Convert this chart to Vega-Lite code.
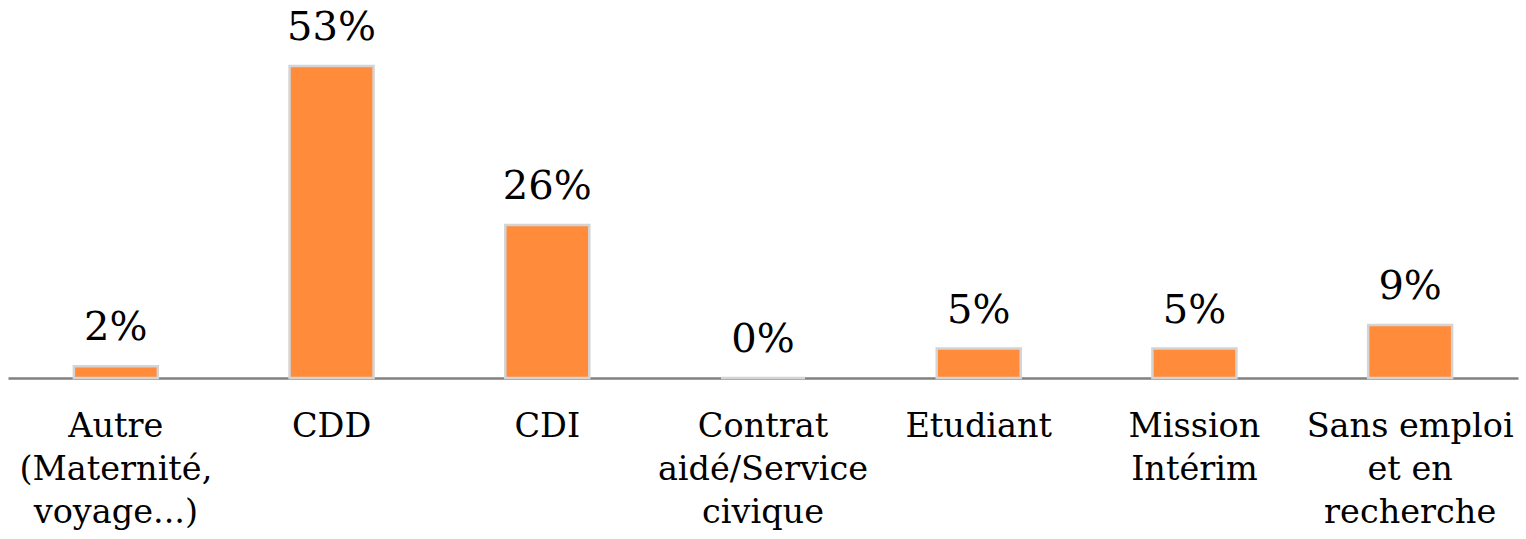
{
  "$schema": "https://vega.github.io/schema/vega-lite/v6.json",
  "width": 1510,
  "height": 378,
  "autosize": {"type": "none"},
  "padding": {"left": 8, "right": 8, "top": 0, "bottom": 161},
  "background": "white",
  "config": {"view": {"stroke": null}},
  "data": {
    "values": [
      {"statut": "Autre (Maternité, voyage...)", "part": 0.02},
      {"statut": "CDD", "part": 0.53},
      {"statut": "CDI", "part": 0.26},
      {"statut": "Contrat aidé/Service civique", "part": 0.0},
      {"statut": "Etudiant", "part": 0.05},
      {"statut": "Mission Intérim", "part": 0.05},
      {"statut": "Sans emploi et en recherche", "part": 0.09}
    ]
  },
  "encoding": {
    "x": {
      "field": "statut",
      "type": "nominal",
      "sort": null,
      "scale": {"paddingInner": 0, "paddingOuter": 0},
      "axis": {
        "title": null,
        "labelAngle": 0,
        "ticks": false,
        "tickSize": 0,
        "labelPadding": 32,
        "labelFont": "DejaVu Serif",
        "labelFontSize": 33.5,
        "labelColor": "#000000",
        "labelLineHeight": 43,
        "labelLimit": 400,
        "labelBaseline": "top",
        "domainColor": "#808080",
        "domainWidth": 2.4,
        "grid": false,
        "labelExpr": "datum.value == 'Autre (Maternité, voyage...)' ? ['Autre', '(Maternité,', 'voyage...)'] : datum.value == 'Contrat aidé/Service civique' ? ['Contrat', 'aidé/Service', 'civique'] : datum.value == 'Mission Intérim' ? ['Mission', 'Intérim'] : datum.value == 'Sans emploi et en recherche' ? ['Sans emploi', 'et en', 'recherche'] : datum.value"
      }
    },
    "y": {
      "field": "part",
      "type": "quantitative",
      "scale": {"domain": [0, 0.642], "nice": false, "zero": true},
      "axis": null
    }
  },
  "layer": [
    {
      "mark": {"type": "bar", "size": 84, "color": "#FF8B3B", "stroke": "#d4d4d4", "strokeWidth": 2.5}
    },
    {
      "mark": {"type": "text", "baseline": "alphabetic", "dy": -26, "font": "DejaVu Serif", "fontSize": 40, "color": "#000000"},
      "encoding": {
        "text": {"field": "part", "type": "quantitative", "format": ".0%"}
      }
    }
  ]
}
